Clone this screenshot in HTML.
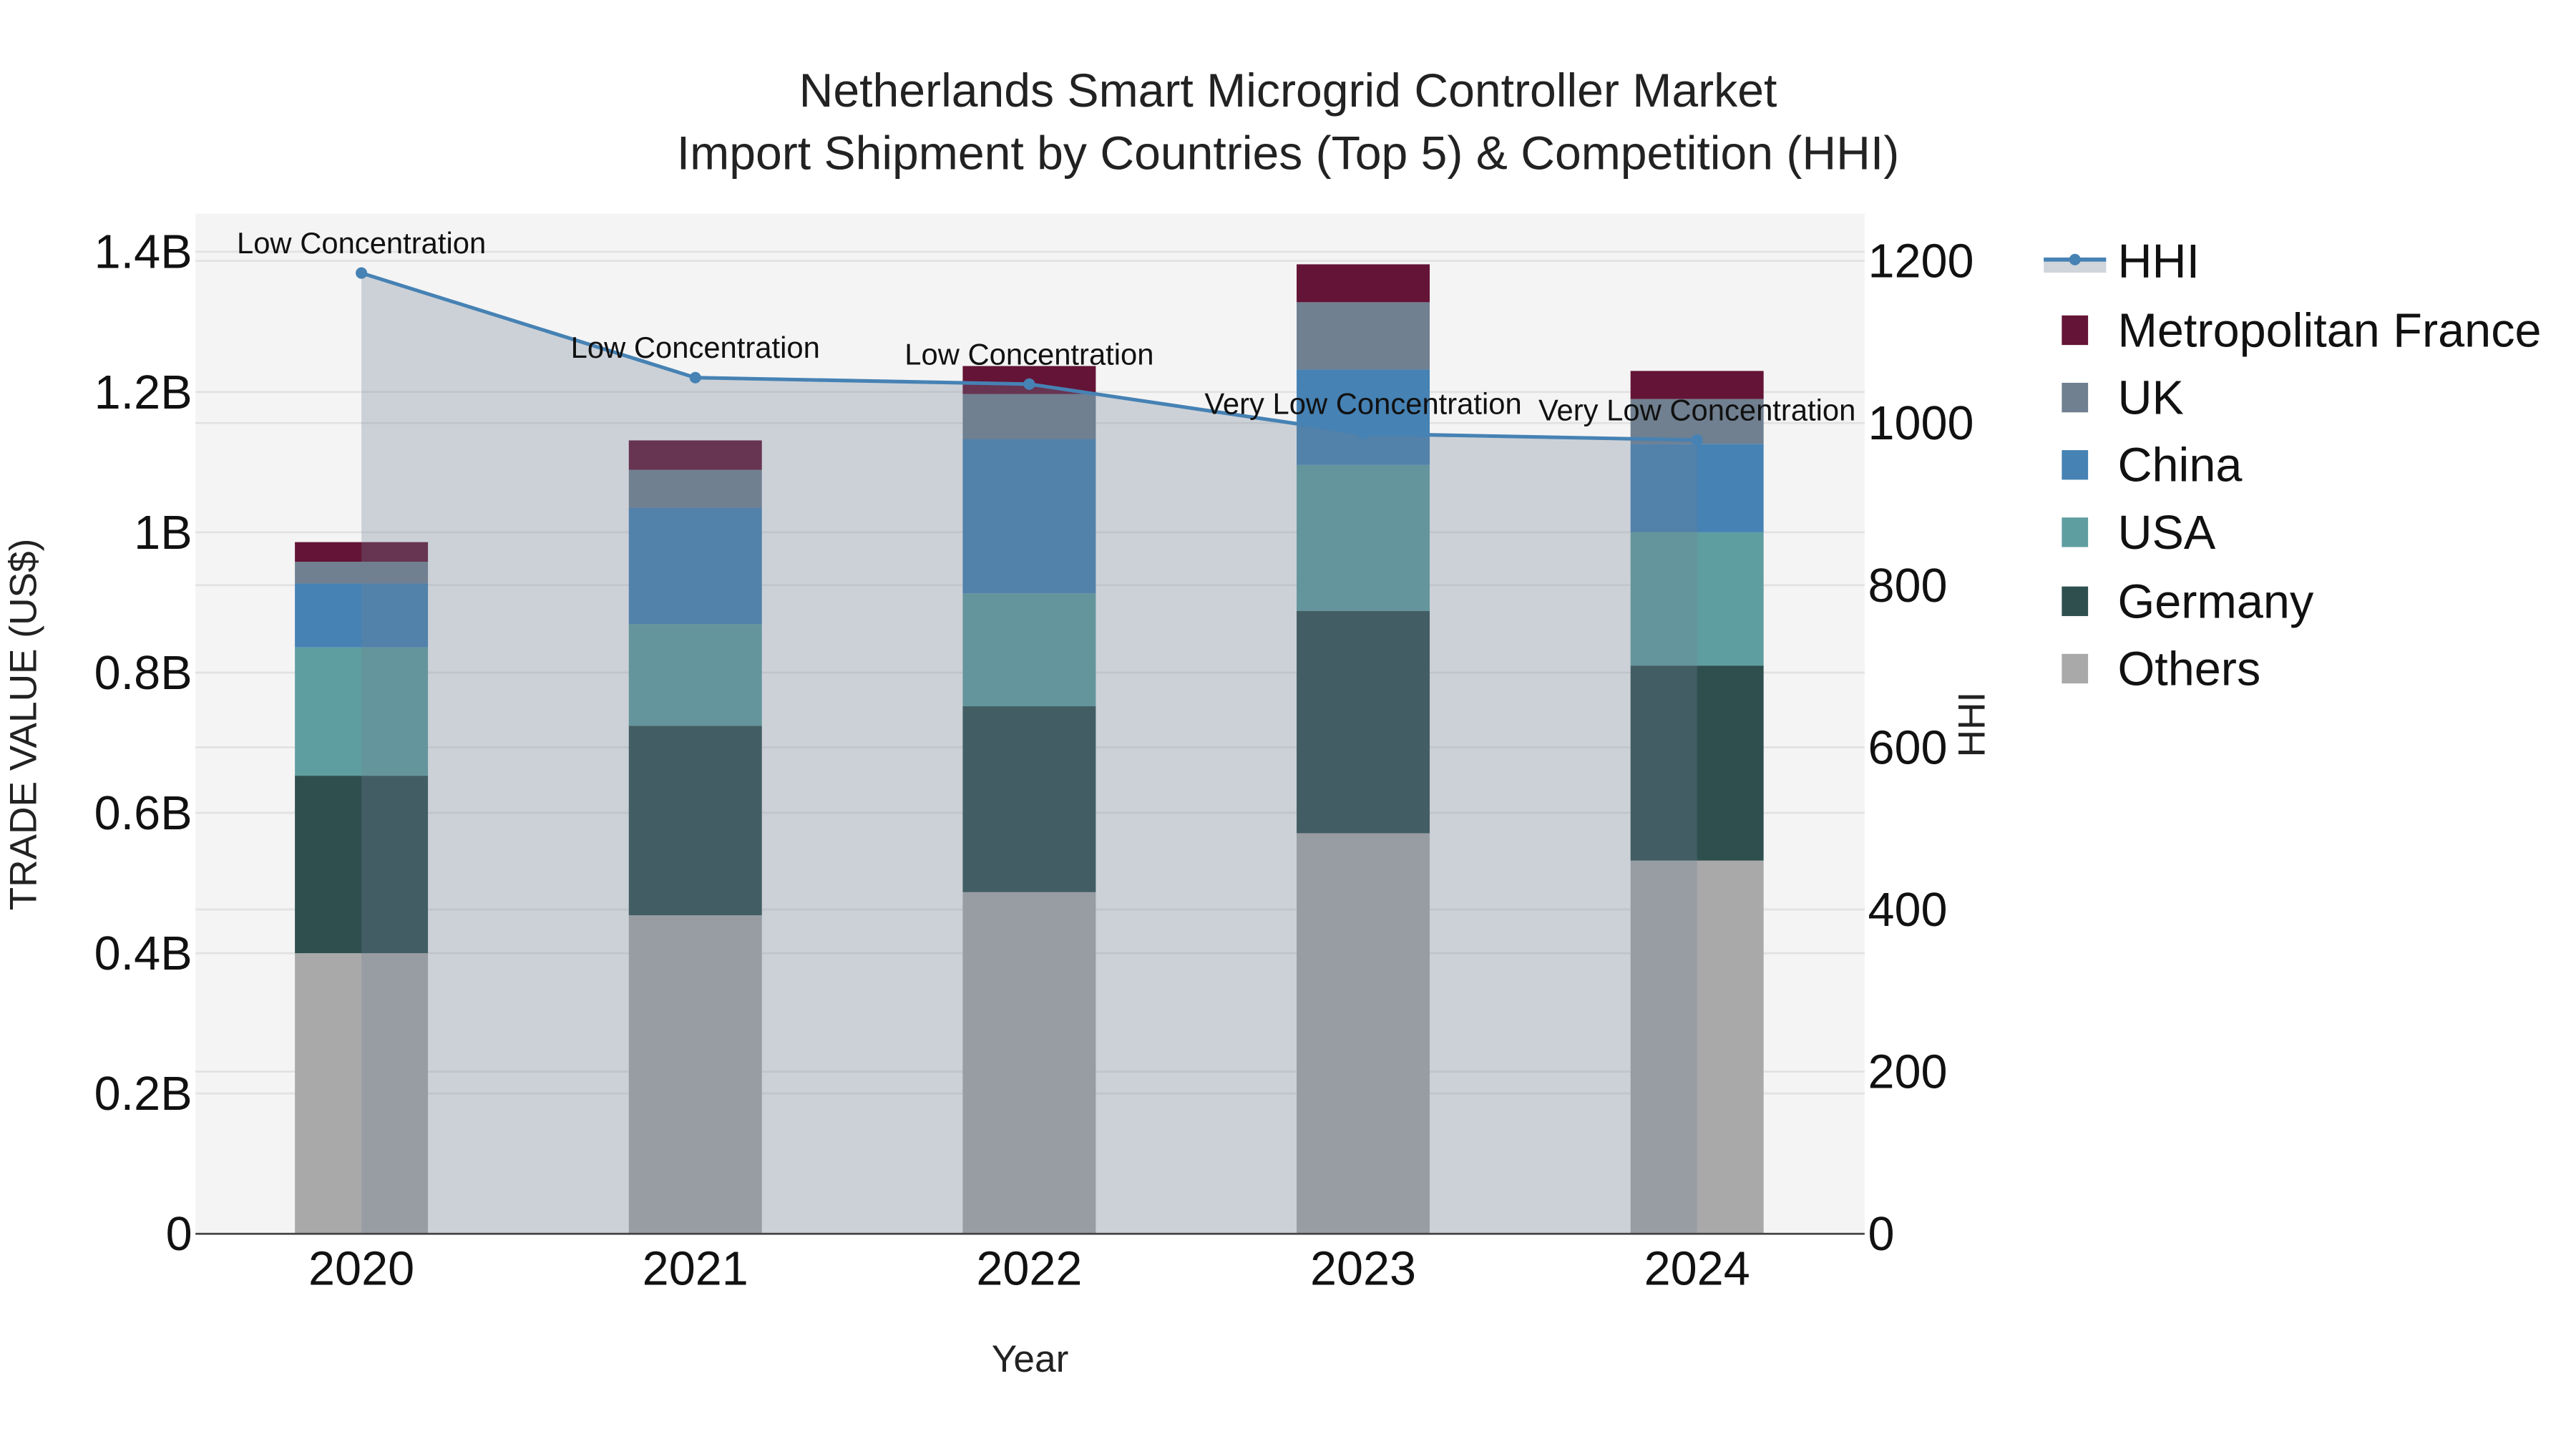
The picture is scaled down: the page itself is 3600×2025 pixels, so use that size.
<!DOCTYPE html>
<html><head><meta charset="utf-8"><style>
html,body{margin:0;padding:0;background:#fff;}
svg{display:block;font-family:"Liberation Sans",sans-serif;}
</style></head><body>
<svg id="chart" width="3600" height="2025" viewBox="0 0 1568 882" xmlns="http://www.w3.org/2000/svg">
<rect x="119" y="130" width="1016" height="621" fill="#f4f4f4"/>
<g id="grid"></g>
<g id="bars"></g>
<g id="hhi"></g>
<line x1="119" y1="751" x2="1135" y2="751" stroke="#444" stroke-width="1.2"/>
<g id="axes" font-size="29" fill="#111"></g>
<text x="784" y="65" text-anchor="middle" font-size="28.8" fill="#222">Netherlands Smart Microgrid Controller Market</text>
<text x="784" y="103" text-anchor="middle" font-size="28.8" fill="#222">Import Shipment by Countries (Top 5) &amp; Competition (HHI)</text>
<text x="627" y="835" text-anchor="middle" font-size="23.2" fill="#222">Year</text>
<text transform="translate(22,441) rotate(-90)" text-anchor="middle" font-size="23.2" fill="#222">TRADE VALUE (US$)</text>
<text transform="translate(1208,441) rotate(-90)" text-anchor="middle" font-size="23.2" fill="#222">HHI</text>
<g id="legend" font-size="29" fill="#111"></g>
</svg>
<script>
const years = ["2020","2021","2022","2023","2024"];
const seriesNames = ["Others","Germany","USA","China","UK","Metropolitan France"];
const others  = [0.400,0.454,0.487,0.571,0.532];
const germany = [0.253,0.270,0.265,0.317,0.278];
const usa     = [0.183,0.145,0.161,0.208,0.190];
const china   = [0.091,0.166,0.220,0.136,0.126];
const uk      = [0.031,0.054,0.064,0.096,0.064];
const france  = [0.028,0.042,0.040,0.054,0.040];
const hhi = [1185,1056,1048,987,979];
const hhiLabels = ["Low Concentration","Low Concentration","Low Concentration","Very Low Concentration","Very Low Concentration"];
const yTicks = [0,0.2,0.4,0.6,0.8,1,1.2,1.4];
const yTickLabels = ["0","0.2B","0.4B","0.6B","0.8B","1B","1.2B","1.4B"];
const y2Ticks = [0,200,400,600,800,1000,1200];

const NS="http://www.w3.org/2000/svg";
const colors = ["#a9a9a9","#2f4f4f","#5f9ea0","#4682b4","#708090","#641436"];
const stacks=[others,germany,usa,china,uk,france];
const X0=119,X1=1135,Y0=751;
const xs = i => 220 + i*203.25;
const ys = v => Y0 - v*427;
const y2s = v => Y0 - v*0.4935;
const barW = 81;
function mk(tag,attrs,parent){const e=document.createElementNS(NS,tag);for(const k in attrs)e.setAttribute(k,attrs[k]);parent.appendChild(e);return e;}
const grid=document.getElementById('grid');
yTicks.forEach(t=>{ if(t===0)return;
  const l=mk('line',{x1:X0,x2:X1,y1:ys(t),y2:ys(t),stroke:'#e2e2e2','stroke-width':1.2},grid);
  
  
});
y2Ticks.forEach(t=>{ if(t===0)return;
  const l=mk('line',{x1:X0,x2:X1,y1:y2s(t),y2:y2s(t),stroke:'#e2e2e2','stroke-width':1.2},grid);
  
  
});
const bars=document.getElementById('bars');
years.forEach((yr,i)=>{
  let base=0;
  stacks.forEach((s,k)=>{
    const r=mk('rect',{x:xs(i)-barW/2,y:ys(base+s[i]),width:barW,height:ys(base)-ys(base+s[i]),fill:colors[k]},bars);
    
    
    base+=s[i];
  });
});
const hg=document.getElementById('hhi');
let d='M'+xs(0)+','+Y0;
hhi.forEach((v,i)=>{d+=' L'+xs(i)+','+y2s(v);});
d+=' L'+xs(hhi.length-1)+','+Y0+' Z';
const area=mk('path',{d:d,fill:'rgba(112,128,150,0.3)'},hg);


const line=mk('polyline',{points:hhi.map((v,i)=>xs(i)+','+y2s(v)).join(' '),fill:'none',stroke:'#4682b4','stroke-width':2.2},hg);


hhi.forEach((v,i)=>{
  const c=mk('circle',{cx:xs(i),cy:y2s(v),r:3.5,fill:'#4682b4'},hg);
  
  
  const t=mk('text',{x:xs(i),y:y2s(v)-12,'text-anchor':'middle','font-size':18.2,fill:'#111'},hg);
  t.textContent=hhiLabels[i];
  
  
});
const ax=document.getElementById('axes');
yTicks.forEach((t,i)=>{
  const e=mk('text',{x:117,y:ys(t)+10,'text-anchor':'end'},ax);
  e.textContent=yTickLabels[i];
  
  
});
y2Ticks.forEach(t=>{
  const e=mk('text',{x:1137,y:y2s(t)+10,'text-anchor':'start'},ax);
  e.textContent=String(t);
  
  
});
years.forEach((yr,i)=>{
  const e=mk('text',{x:xs(i),y:782,'text-anchor':'middle'},ax);
  e.textContent=yr;
  
  
});
const lg=document.getElementById('legend');
const ly=[159,201,242,283,324,366,407];
const l1=mk('rect',{x:1244,y:159,width:38,height:7,fill:'#d0d5dc'},lg);


const l2=mk('line',{x1:1244,x2:1282,y1:158,y2:158,stroke:'#4682b4','stroke-width':2.5},lg);


const l3=mk('circle',{cx:1263,cy:158,r:3.5,fill:'#4682b4'},lg);


const lt=mk('text',{x:1289,y:169},lg);lt.textContent='HHI';


for(let k=5;k>=0;k--){
  const row=6-k; const y=ly[row];
  const r=mk('rect',{x:1255,y:y-9,width:16,height:18,fill:colors[k]},lg);
  
  
  const t=mk('text',{x:1289,y:y+10},lg);t.textContent=seriesNames[k];
  
  
}
</script>
</body></html>
